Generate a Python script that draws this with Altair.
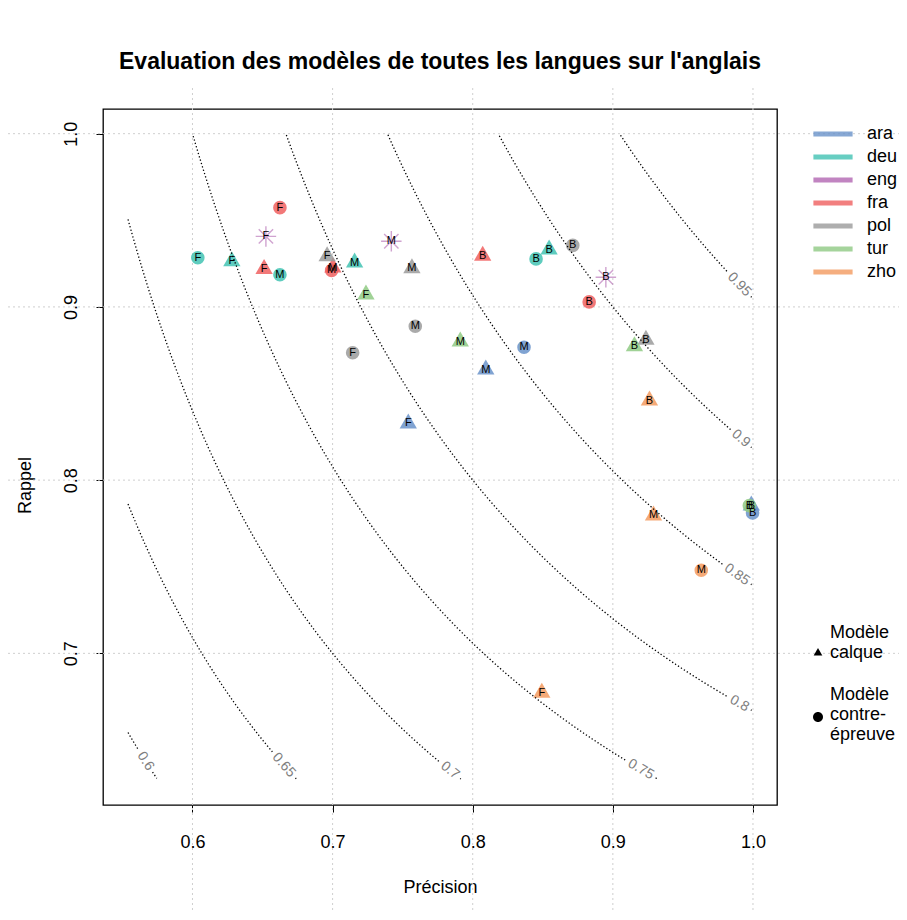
import altair as alt
import pandas as pd

# ---------------- data ----------------
LANGS = ["ara", "deu", "eng", "fra", "pol", "tur", "zho"]
COLORS = ["#6a93ca", "#42c3b3", "#b266b2", "#f06060", "#9b9b9b", "#8fca84", "#f39b60"]

pt_lang = ["ara", "ara", "ara", "ara", "ara",
           "deu", "deu", "deu", "deu", "deu", "deu",
           "eng", "eng", "eng",
           "fra", "fra", "fra", "fra", "fra", "fra",
           "pol", "pol", "pol", "pol", "pol", "pol",
           "tur", "tur", "tur", "tur",
           "zho", "zho", "zho", "zho"]
pt_type = ["calque", "calque", "calque", "contre", "contre",
           "calque", "calque", "calque", "contre", "contre", "contre",
           "ref", "ref", "ref",
           "calque", "calque", "calque", "contre", "contre", "contre",
           "calque", "calque", "calque", "contre", "contre", "contre",
           "calque", "calque", "calque", "contre",
           "calque", "calque", "calque", "contre"]
pt_var = ["F", "M", "B", "M", "B",
          "F", "M", "B", "F", "M", "B",
          "F", "M", "B",
          "F", "M", "B", "F", "M", "B",
          "F", "M", "B", "F", "M", "B",
          "F", "M", "B", "B",
          "F", "M", "B", "M"]
pt_prec = [0.754, 0.8093, 0.9988, 0.8366, 0.9997,
           0.6281, 0.7157, 0.8545, 0.6038, 0.6624, 0.8452,
           0.6524, 0.7419, 0.895,
           0.6511, 0.7002, 0.8071, 0.6624, 0.6993, 0.8831,
           0.6961, 0.7566, 0.9236, 0.7143, 0.759, 0.8714,
           0.7238, 0.7911, 0.9154, 0.9974,
           0.8493, 0.929, 0.9261, 0.9631]
pt_rec = [0.8327, 0.8638, 0.7853, 0.8767, 0.7811,
          0.9263, 0.9256, 0.9331, 0.9284, 0.9186, 0.9277,
          0.9407, 0.9379, 0.9171,
          0.9219, 0.9227, 0.9296, 0.9573, 0.9211, 0.9029,
          0.9292, 0.9223, 0.8811, 0.8735, 0.8888, 0.9355,
          0.9071, 0.88, 0.8773, 0.7853,
          0.6773, 0.7796, 0.8459, 0.748]

TYPE_NAMES = {"calque": "Modèle|calque", "contre": "Modèle|contre-|épreuve", "ref": "ref"}
TYPE_DOMAIN = ["Modèle|calque", "Modèle|contre-|épreuve"]

# F-measure isolines
levels = [0.6, 0.65, 0.7, 0.75, 0.8, 0.85, 0.9, 0.95]
level_labels = ["0.6", "0.65", "0.7", "0.75", "0.8", "0.85", "0.9", "0.95"]
label_prec = [0.5665, 0.6652, 0.7838, 0.92, 0.9904, 0.9886, 0.9914, 0.9902]

x_ticks = [0.6, 0.7, 0.8, 0.9, 1.0]
y_ticks = [0.7, 0.8, 0.9, 1.0]

# ---------------- layout ----------------
W, H = 674, 696
XD = [0.53614, 1.01714]
YD = [0.61246, 1.01425]
GX = [0.554, 0.9993]     # precision range of the isoline grid
GY = [0.6273, 0.9994]    # recall range of the isoline grid
KX = W / (XD[1] - XD[0])
KY = H / (YD[1] - YD[0])
FONT = "Liberation Sans"

TRI = "M0,-1L0.866,0.5L-0.866,0.5Z"
STAR = "M-1,0L1,0M0,-1L0,1M-0.7,-0.7L0.7,0.7M-0.7,0.7L0.7,-0.7"
# legend symbols, drawn lower so that they sit beside the right line of text
TRI_LEG = "M0,3L0.866,4.5L-0.866,4.5Z"
CIRC_LEG = "M1,4.4A1,1,0,1,1,-1,4.4A1,1,0,1,1,1,4.4Z"

pts = pd.DataFrame({
    "lang": pt_lang,
    "mtype": [TYPE_NAMES[t] for t in pt_type],
    "var": pt_var,
    "prec": pt_prec,
    "rec": pt_rec,
})
lev = pd.DataFrame({"F": levels, "lab": level_labels, "Pc": label_prec})

xscale = alt.Scale(domain=XD, nice=False, zero=False)
yscale = alt.Scale(domain=YD, nice=False, zero=False)
xaxis = alt.Axis(values=x_ticks, format=".1f", title="Précision",
                 titleX=W / 2, titleY=82, titleBaseline="middle")
yaxis = alt.Axis(values=y_ticks, format=".1f", title="Rappel", labelAngle=270,
                 labelAlign="center", labelBaseline="middle", labelPadding=25,
                 titleX=-78, titleY=376, titleBaseline="middle", titleAngle=270)


def X(f):
    return alt.X(f, type="quantitative", scale=xscale, axis=xaxis)


def Y(f):
    return alt.Y(f, type="quantitative", scale=yscale, axis=yaxis)


vgrid = alt.Chart(pd.DataFrame({"v": x_ticks})).mark_rule(
    color="#cfcfcf", strokeDash=[2, 3], strokeWidth=1
).encode(x=X("v"), y=alt.value(-21), y2=alt.value(H + 110))

hgrid = alt.Chart(pd.DataFrame({"v": y_ticks})).mark_rule(
    color="#cfcfcf", strokeDash=[2, 3], strokeWidth=1
).encode(y=Y("v"), x=alt.value(-95), x2=alt.value(W + 122))

filled = alt.Chart(pts).transform_filter("datum.mtype != 'ref'").mark_point(
    filled=True, opacity=0.85, strokeWidth=0
).encode(
    x=X("prec"), y=Y("rec"),
    fill=alt.Fill("lang:N", scale=alt.Scale(domain=LANGS[::-1], range=COLORS[::-1]), legend=None),
    shape=alt.Shape("mtype:N", scale=alt.Scale(domain=TYPE_DOMAIN, range=[TRI, "circle"]), legend=None),
    size=alt.condition("datum.mtype == 'Modèle|calque'", alt.value(400), alt.value(185)),
)

# invisible layer carrying the shape legend
shape_leg = alt.Chart(pts).transform_filter("datum.mtype != 'ref'").mark_point(
    filled=True, opacity=0, color="black"
).encode(
    x=X("prec"), y=Y("rec"),
    shape=alt.Shape(
        "mtype:N",
        scale=alt.Scale(domain=TYPE_DOMAIN, range=[TRI_LEG, CIRC_LEG]),
        legend=alt.Legend(
            title=None, orient="none", legendX=706, legendY=515,
            labelExpr="split(datum.label, '|')",
            symbolFillColor="black", symbolSize=100, symbolOpacity=1,
            symbolStrokeWidth=0,
            labelFont=FONT, labelFontSize=18, labelColor="black",
            labelOffset=3, rowPadding=24,
        ),
    ),
)

stars = alt.Chart(pts).transform_filter("datum.mtype == 'ref'").mark_point(
    shape=STAR, filled=False, size=420, strokeWidth=1.4, strokeOpacity=0.85
).encode(
    x=X("prec"), y=Y("rec"),
    stroke=alt.Stroke(
        "lang:N", scale=alt.Scale(domain=LANGS, range=COLORS),
        legend=alt.Legend(
            title=None, orient="none", legendX=721, legendY=16,
            symbolType="M-4,0H4", symbolSize=96, symbolStrokeWidth=5,
            symbolOpacity=0.8,
            labelFont=FONT, labelFontSize=18, labelColor="black",
            labelOffset=25, rowPadding=3,
        ),
    ),
)

plabels = alt.Chart(pts).mark_text(
    font=FONT, fontSize=11, color="black", align="center", baseline="middle"
).encode(x=X("prec"), y=Y("rec"), text="var:N")

iso = alt.Chart(lev).transform_calculate(
    Rc="datum.F * datum.Pc / (2 * datum.Pc - datum.F)",
    P=f"sequence({GX[0]}, {GX[1]}, 0.0005)",
).transform_flatten(["P"]).transform_calculate(
    R="datum.F * datum.P / (2 * datum.P - datum.F)"
).transform_filter(
    f"datum.R >= {GY[0]} && datum.R <= {GY[1]}"
).transform_calculate(
    d=f"sqrt(pow((datum.P - datum.Pc) * {KX}, 2) + pow((datum.R - datum.Rc) * {KY}, 2))",
    hg="0.5 * 14 * (0.556 * (length(datum.lab) - 1) + 0.278) + 3",
    seg="datum.P < datum.Pc ? 0 : 1",
).transform_filter("datum.d > datum.hg").mark_line(
    color="black", strokeWidth=1.3, strokeDash=[1.3, 2.2]
).encode(x=X("P"), y=Y("R"), detail=["lab:N", "seg:N"], order="P:Q")

isolab = alt.Chart(lev).transform_calculate(
    Rc="datum.F * datum.Pc / (2 * datum.Pc - datum.F)",
    ang=f"atan(pow(datum.F, 2) / pow(2 * datum.Pc - datum.F, 2) * {KY} / {KX}) * 180 / PI",
).mark_text(
    font=FONT, fontSize=14, color="#808080", align="center", baseline="middle"
).encode(x=X("Pc"), y=Y("Rc"), text="lab:N", angle=alt.Angle("ang:Q", scale=None))

chart = alt.layer(vgrid, hgrid, filled, shape_leg, stars, plabels, iso, isolab).resolve_scale(
    shape="independent"
).properties(
    width=W, height=H,
    autosize=alt.AutoSizeParams(type="none"),
    padding={"left": 95, "top": 101, "right": 122, "bottom": 107},
    title=alt.TitleParams(
        "Evaluation des modèles de toutes les langues sur l'anglais",
        font=FONT, fontSize=23, fontWeight="bold", anchor="middle",
        offset=14, color="black",
    ),
).configure_view(stroke="black", strokeWidth=1.3).configure_axis(
    domain=False, grid=False, ticks=True, tickColor="black", tickSize=7,
    labelFont=FONT, labelFontSize=18, labelColor="black",
    titleFont=FONT, titleFontSize=18, titleFontWeight="normal", titleColor="black",
).configure_axisX(labelPadding=21)

chart.save("out.html", embed_options={"renderer": "svg", "actions": False})
